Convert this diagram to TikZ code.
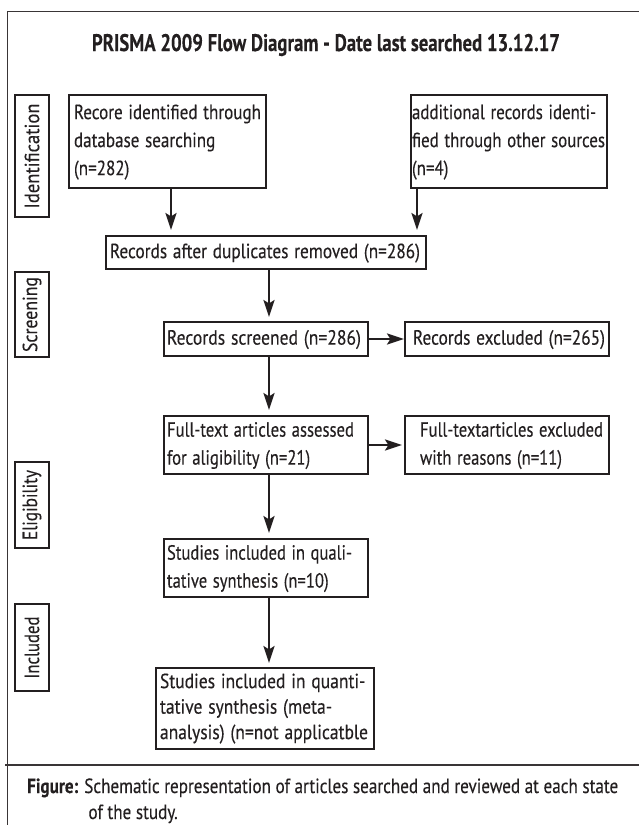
\documentclass[tikz,border=0pt]{standalone}
\usepackage{fontspec}
\usepackage{graphicx}
\setmainfont[FakeBold=0.3]{PT Sans}
\usetikzlibrary{arrows.meta}
\definecolor{ink}{HTML}{231F20}
\newcommand\fitlines[2]{\resizebox{#1}{\height}{\begin{tabular}{@{}l@{}}#2\end{tabular}}}
\begin{document}
\begin{tikzpicture}[x=1pt,y=-1pt,
  box/.style={draw=ink, line width=1.3pt, anchor=north west, inner ysep=0pt, outer sep=0pt, align=left, text=ink, font=\fontsize{20.5}{28}\selectfont},
  lab/.style={draw=ink, line width=1.3pt, anchor=north west, inner sep=0pt, outer sep=0pt, minimum width=34pt, text=ink, font=\fontsize{20.5}{24}\selectfont},
  arr/.style={line width=2.5pt, draw=ink, -{Stealth[length=17pt,width=11pt,inset=3.5pt]}},
  frame/.style={line width=1.4pt, draw=ink!90}
]
\useasboundingbox (0,0) rectangle (639,825);
% frame
\draw[frame] (7.3,825) -- (7.3,11.7) -- (639,11.7);
\draw[frame] (5,765) -- (639,765);
% title
\node[text=ink, font=\bfseries\fontsize{24}{26}\selectfont] (title) at (326,45) {\resizebox{468pt}{\height}{PRISMA 2009 Flow Diagram - Date last searched 13.12.17}};
% stage labels
\node[lab, minimum height=122pt] (lid) at (15,95) {\rotatebox{90}{\resizebox{105pt}{\height}{Identification}}};
\node[lab, minimum height=85pt] (lsc) at (15,272) {\rotatebox{90}{\resizebox{75pt}{\height}{Screening}}};
\node[lab, minimum height=86pt] (lel) at (15,462) {\rotatebox{90}{\resizebox{70pt}{\height}{Eligibility}}};
\node[lab, minimum height=87pt] (lin) at (15,604) {\rotatebox{90}{\resizebox{62pt}{\height}{Included}}};
% boxes
\node[box, inner xsep=5pt, minimum width=197pt, minimum height=93pt, text width=187pt] (b1) at (69,95) {\fitlines{187pt}{Recore identified through\\database searching\\(n=282)}};
\node[box, inner xsep=1pt, minimum width=196pt, minimum height=93pt, text width=194pt] (b2) at (411,95) {\fitlines{193pt}{additional records identi-\\fied through other sources\\(n=4)}};
\node[box, inner xsep=4pt, minimum width=320pt, minimum height=33pt, text width=312pt] (b3) at (106,236) {\fitlines{310pt}{Records after duplicates removed (n=286)}};
\node[box, inner xsep=3pt, minimum width=204pt, minimum height=34pt, text width=198pt] (b4) at (164,322) {\fitlines{194pt}{Records screened (n=286)}};
\node[box, inner xsep=8pt, minimum width=204pt, minimum height=34pt, text width=188pt] (b5) at (405,322) {\fitlines{192pt}{Records excluded (n=265)}};
\node[box, inner xsep=3pt, minimum width=204pt, minimum height=58pt, text width=198pt] (b6) at (164,416) {\fitlines{187pt}{Full-text articles assessed\\for aligibility (n=21)}};
\node[box, inner xsep=15pt, minimum width=204pt, minimum height=58pt, text width=174pt] (b7) at (405,416) {\fitlines{183pt}{Full-textarticles excluded\\with reasons (n=11)}};
\node[box, inner xsep=3pt, minimum width=204pt, minimum height=58pt, text width=198pt] (b8) at (164,539) {\fitlines{185pt}{Studies included in quali-\\tative synthesis (n=10)}};
\node[box, inner xsep=4pt, minimum width=218pt, minimum height=81pt, text width=210pt, font=\fontsize{20.5}{25.5}\selectfont] (b9) at (156,668) {\fitlines{208pt}{Studies included in quanti-\\tative synthesis (meta-\\analysis) (n=not applicatble}};
% arrows
\draw[arr, shorten >=6pt] ([xshift=102pt]b1.south west) -- ([xshift=102pt]b1.south west |- b3.north);
\draw[arr, shorten >=6pt] ([xshift=6pt]b2.south west) -- ([xshift=6pt]b2.south west |- b3.north);
\draw[arr, shorten >=5pt] ([xshift=3pt]b3.south) -- ([xshift=3pt]b4.north);
\draw[arr, shorten >=1pt] (b4.east) -- (b5.west);
\draw[arr, shorten >=6pt] ([xshift=3pt]b4.south) -- ([xshift=3pt]b6.north);
\draw[arr, shorten >=3pt] (b6.east) -- (b7.west);
\draw[arr, shorten >=6pt] ([xshift=3pt]b6.south) -- ([xshift=3pt]b8.north);
\draw[arr, shorten >=5pt] ([xshift=3pt]b8.south) -- ([xshift=4pt]b9.north);
% caption
\node[anchor=base west, inner sep=0pt, text=ink, font=\fontsize{20.5}{26}\selectfont] (cap) at (27,793) {\resizebox{591pt}{\height}{\begin{tabular}[t]{@{}l@{}}\textbf{Figure:} Schematic representation of articles searched and reviewed at each state\\\phantom{\textbf{Figure:} }\hspace{5pt}of the study.\end{tabular}}};
\end{tikzpicture}
\end{document}
